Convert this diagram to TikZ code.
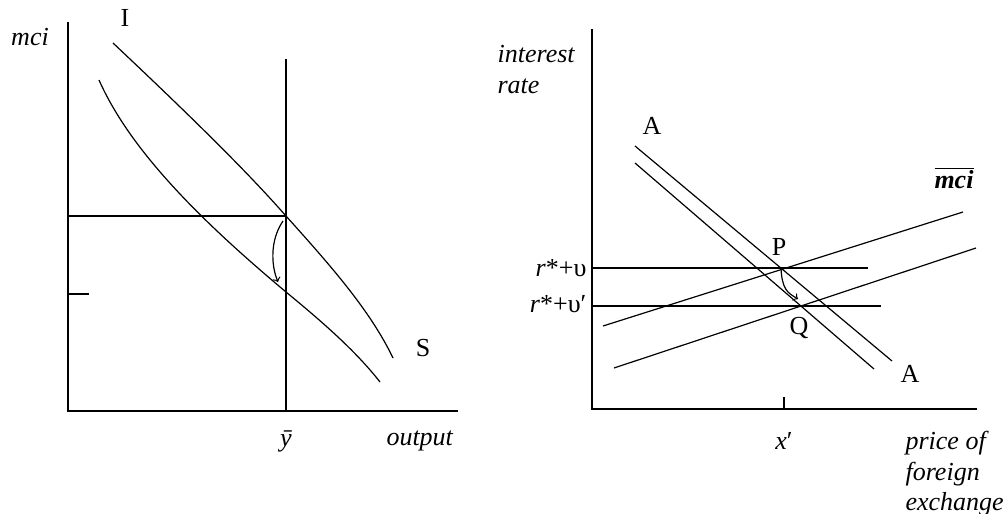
\documentclass[tikz,border=0pt]{standalone}
\usepackage{fontspec}
\setmainfont{Liberation Serif}
\usetikzlibrary{calc}
\tikzset{lbl/.style={inner sep=1pt,font=\fontsize{13}{15.25}\selectfont}}

\begin{document}
\begin{tikzpicture}[x=0.5pt,y=-0.5pt,line width=0.6pt]
 \useasboundingbox (0,0) rectangle (1008,514);
 % left panel
 \coordinate (lo) at (68,411); \coordinate (ltop) at (68,22); \coordinate (lend) at (458,411);
 \coordinate (yb) at (286,411); \coordinate (ybt) at (286,59); \coordinate (E) at (286,216); \coordinate (F) at (286,292);
 \draw (ltop)--(lo)--(lend); \draw (ybt)--(yb);
 \draw (68,216)--(E); \draw (68,294)--(89,294);
 \draw (113,43) .. controls (200,125) and (250,175) .. (E) .. controls (330,265) and (370,310) .. (393,358);
 \draw (99,80) .. controls (130,150) and (200,220) .. (F) .. controls (320,320) and (355,350) .. (380,382);
 \draw[->] (283,221) .. controls (270,240) and (271,265) .. (278,282);
 \node[lbl] (mci) at (30,37) {\textit{mci}};
 \node[lbl] (I) at (125,18) {I}; \node[lbl] (S) at (423,348) {S};
 \node[lbl] (ybar) at (286,441) {\textit{\=y}}; \node[lbl] (out) at (420,441) {\textit{output}};
 % right panel
 \coordinate (ro) at (592,409); \coordinate (rtop) at (592,29); \coordinate (rend) at (977,409);
 \coordinate (P) at (781,268); \coordinate (Q) at (801,306);
 \draw (rtop)--(ro)--(rend); \draw (784,397)--(784,409);
 \draw (592,268)--(868,268); \draw (592,306)--(881,306);
 \draw (603,326)--(963,212); \draw (614,368)--(976,248);
 \draw (635,146)--(892,361); \draw (635,163)--(874,369);
 \draw[->] (P) .. controls (782,290) and (788,293) .. (798,299);
 \node[lbl,align=left,anchor=north west] (ir) at (495,43) {\textit{interest}\\\textit{rate}};
 \node[lbl] (A1) at (652,126) {A}; \node[lbl] (A2) at (910,374) {A};
 \node[lbl] (Pl) at (779,247) {P}; \node[lbl] (Ql) at (799,328) {Q};
 \node[lbl] (mcib) at (954,178) {$\overline{\mbox{\bfseries\itshape mci}}$};
 \node[lbl,anchor=east] (r1) at (589,268) {\textit{r}*+υ};
 \node[lbl,anchor=east] (r2) at (589,304) {\textit{r}*+υ′};
 \node[lbl] (xp) at (784,441) {\textit{x}′};
 \node[lbl,align=left,anchor=north west] (pfe) at (903,429) {\textit{price of}\\\textit{foreign}\\\textit{exchange}};
\end{tikzpicture}
\end{document}
